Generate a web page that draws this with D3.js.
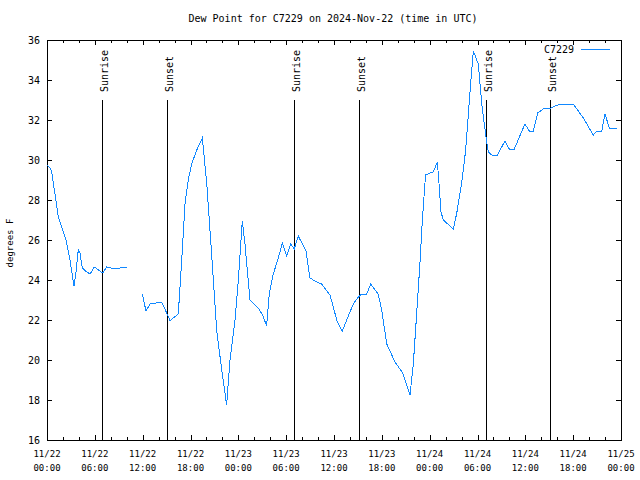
<!DOCTYPE html>
<html>
<head>
<meta charset="utf-8">
<script src="https://cdn.jsdelivr.net/npm/d3@7/dist/d3.min.js"></script>
<style>
  html, body { margin: 0; padding: 0; background: #fff; }
  svg { display: block; }
  text { font-family: "DejaVu Sans Mono", monospace; font-size: 10px; fill: #000; }
</style>
</head>
<body>
<svg id="chart" width="640" height="480"></svg>
<script>
// ---- data ----
const times = [
  "2024-11-22 00:00","2024-11-22 00:23","2024-11-22 00:35","2024-11-22 01:00","2024-11-22 01:25",
  "2024-11-22 01:51","2024-11-22 02:23","2024-11-22 02:53","2024-11-22 03:23","2024-11-22 03:38",
  "2024-11-22 03:56","2024-11-22 04:08","2024-11-22 04:26","2024-11-22 04:59","2024-11-22 05:24",
  "2024-11-22 05:56","2024-11-22 06:18","2024-11-22 06:46","2024-11-22 07:04","2024-11-22 07:29",
  "2024-11-22 07:59","2024-11-22 09:09","2024-11-22 10:00",
  "2024-11-22 11:00",
  "2024-11-22 11:57","2024-11-22 12:25","2024-11-22 12:55","2024-11-22 14:23","2024-11-22 15:01",
  "2024-11-22 15:26","2024-11-22 16:28","2024-11-22 16:54","2024-11-22 17:19","2024-11-22 17:43",
  "2024-11-22 18:09","2024-11-22 18:47","2024-11-22 19:29","2024-11-22 20:02","2024-11-22 20:40",
  "2024-11-22 21:17","2024-11-22 21:55","2024-11-22 22:32","2024-11-22 22:57","2024-11-22 23:35",
  "2024-11-23 00:00","2024-11-23 00:30","2024-11-23 00:50","2024-11-23 01:28","2024-11-23 02:30",
  "2024-11-23 03:03","2024-11-23 03:33","2024-11-23 03:53","2024-11-23 04:23","2024-11-23 05:01",
  "2024-11-23 05:31","2024-11-23 06:04","2024-11-23 06:34","2024-11-23 07:01","2024-11-23 07:31",
  "2024-11-23 08:29","2024-11-23 08:59","2024-11-23 09:50","2024-11-23 10:27","2024-11-23 11:30",
  "2024-11-23 12:25","2024-11-23 13:02","2024-11-23 14:25","2024-11-23 15:03","2024-11-23 15:29",
  "2024-11-23 16:06","2024-11-23 16:36","2024-11-23 17:33","2024-11-23 17:59","2024-11-23 18:37",
  "2024-11-23 19:39","2024-11-23 20:37","2024-11-23 21:32","2024-11-23 21:57","2024-11-23 22:22",
  "2024-11-23 22:47","2024-11-23 23:05","2024-11-23 23:29",
  "2024-11-24 00:01","2024-11-24 00:28","2024-11-24 00:58","2024-11-24 01:10","2024-11-24 01:25",
  "2024-11-24 01:43","2024-11-24 02:58","2024-11-24 03:24","2024-11-24 04:01","2024-11-24 04:31",
  "2024-11-24 05:09","2024-11-24 05:29","2024-11-24 06:06","2024-11-24 06:32","2024-11-24 07:04",
  "2024-11-24 07:21","2024-11-24 07:47","2024-11-24 08:25","2024-11-24 09:27","2024-11-24 09:59",
  "2024-11-24 10:37","2024-11-24 11:57","2024-11-24 12:30","2024-11-24 13:00","2024-11-24 13:33",
  "2024-11-24 14:15","2024-11-24 15:11","2024-11-24 16:21","2024-11-24 18:01","2024-11-24 19:16",
  "2024-11-24 20:32","2024-11-24 20:57","2024-11-24 21:35","2024-11-24 22:00","2024-11-24 22:32",
  "2024-11-24 23:32"
];
const dewPoint = [
  29.75,29.6,29.4,28.3,27.15,
  26.65,26.0,25.0,23.7,24.35,
  25.55,25.35,24.6,24.4,24.3,
  24.65,24.55,24.4,24.4,24.65,
  24.6,24.6,24.65,
  null,
  23.3,22.45,22.8,22.9,22.35,
  21.97,22.3,25.0,27.85,29.0,
  29.8,30.5,31.1,28.85,25.2,
  21.5,19.5,17.75,20.0,22.0,
  24.0,26.95,25.8,23.0,22.6,
  22.25,21.7,23.3,24.3,25.1,
  25.85,25.2,25.8,25.55,26.2,
  25.45,24.1,23.9,23.8,23.25,
  21.9,21.45,22.8,23.15,23.3,
  23.3,23.8,23.3,22.5,20.8,
  19.9,19.35,18.25,19.8,22.3,
  24.85,27.0,29.25,
  29.35,29.4,29.9,28.85,27.4,
  27.0,26.55,27.35,28.85,30.5,
  33.9,35.45,34.8,32.8,31.15,
  30.4,30.25,30.2,30.95,30.55,
  30.55,31.8,31.45,31.45,32.35,
  32.55,32.6,32.8,32.8,32.1,
  31.25,31.45,31.45,32.3,31.6,
  31.6
];
const sunriseTimes = ["2024-11-22 06:56","2024-11-23 07:01","2024-11-24 07:06"];
const sunsetTimes  = ["2024-11-22 15:05","2024-11-23 15:10","2024-11-24 15:08"];
const yTicks = [16,18,20,22,24,26,28,30,32,34,36];
const xDomain = ["2024-11-22 00:00","2024-11-25 00:00"];
const titleText = "Dew Point for C7229 on 2024-Nov-22 (time in UTC)";
const seriesName = "C7229";
const yLabel = "degrees F";

// ---- chart ----
const parse = d3.utcParse("%Y-%m-%d %H:%M");
const svg = d3.select("#chart");
const L = 47, R = 621, T = 40, B = 440;
const lineColor = "#1188ff";

const x = d3.scaleUtc().domain(xDomain.map(parse)).range([L, R]);
const y = d3.scaleLinear().domain([16, 36]).range([B, T]);

const data = times.map((t, i) => ({t: parse(t), v: dewPoint[i]}));

// frame
svg.append("rect").attr("x", L + 0.5).attr("y", T + 0.5)
  .attr("width", R - L).attr("height", B - T)
  .attr("fill", "none").attr("stroke", "#000").attr("stroke-width", 1)
  .attr("shape-rendering", "crispEdges");

// x ticks
const majorX = x.ticks(d3.utcHour.every(6));
const minorX = x.ticks(d3.utcHour.every(2));
const tg = svg.append("g").attr("stroke", "#000").attr("shape-rendering", "crispEdges");
minorX.forEach(d => {
  const px = Math.round(x(d)) + 0.5;
  const len = (d.getUTCHours() % 6 === 0) ? 5 : 3;
  tg.append("line").attr("x1", px).attr("x2", px).attr("y1", B).attr("y2", B - len);
  tg.append("line").attr("x1", px).attr("x2", px).attr("y1", T).attr("y2", T + len);
});
// y ticks
yTicks.forEach(v => {
  const py = Math.round(y(v)) + 0.5;
  tg.append("line").attr("x1", L).attr("x2", L + 5).attr("y1", py).attr("y2", py);
  tg.append("line").attr("x1", R).attr("x2", R - 5).attr("y1", py).attr("y2", py);
});

// x labels
const fmtD = d3.utcFormat("%m/%d"), fmtT = d3.utcFormat("%H:%M");
majorX.forEach(d => {
  const px = x(d);
  const g = svg.append("text").attr("text-anchor", "middle").style("font-size", "9px");
  g.append("tspan").attr("x", px).attr("y", 457).text(fmtD(d));
  g.append("tspan").attr("x", px).attr("y", 471).text(fmtT(d));
});
// y labels
yTicks.forEach(v => {
  svg.append("text").attr("x", 40).attr("y", y(v) + 3.5)
    .attr("text-anchor", "end").text(v);
});
// axis title
svg.append("text").attr("transform", "translate(13,243) rotate(-90)")
  .attr("text-anchor", "middle").style("font-size", "9px").text(yLabel);
// title
svg.append("text").attr("x", 333).attr("y", 22).attr("text-anchor", "middle").text(titleText);

// sunrise / sunset lines
function sunLine(ts, label) {
  ts.forEach(s => {
    const px = Math.round(x(parse(s))) + 0.5;
    svg.append("line").attr("x1", px).attr("x2", px).attr("y1", y(33)).attr("y2", B)
      .attr("stroke", "#000").attr("stroke-width", 1).attr("shape-rendering", "crispEdges");
    svg.append("text").attr("transform", `translate(${px + 5},92) rotate(-90)`)
      .attr("text-anchor", "start").text(label);
  });
}
sunLine(sunriseTimes, "Sunrise");
sunLine(sunsetTimes, "Sunset");

// data line
const line = d3.line().defined(d => d.v !== null).x(d => x(d.t)).y(d => y(d.v));
svg.append("path").datum(data).attr("d", line)
  .attr("fill", "none").attr("stroke", lineColor).attr("stroke-width", 1)
  .attr("shape-rendering", "crispEdges");

// legend
svg.append("text").attr("x", 574).attr("y", 52.5).attr("text-anchor", "end").text(seriesName);
svg.append("line").attr("x1", 581).attr("x2", 610).attr("y1", 49.5).attr("y2", 49.5)
  .attr("stroke", lineColor).attr("stroke-width", 1).attr("shape-rendering", "crispEdges");
</script>
</body>
</html>
